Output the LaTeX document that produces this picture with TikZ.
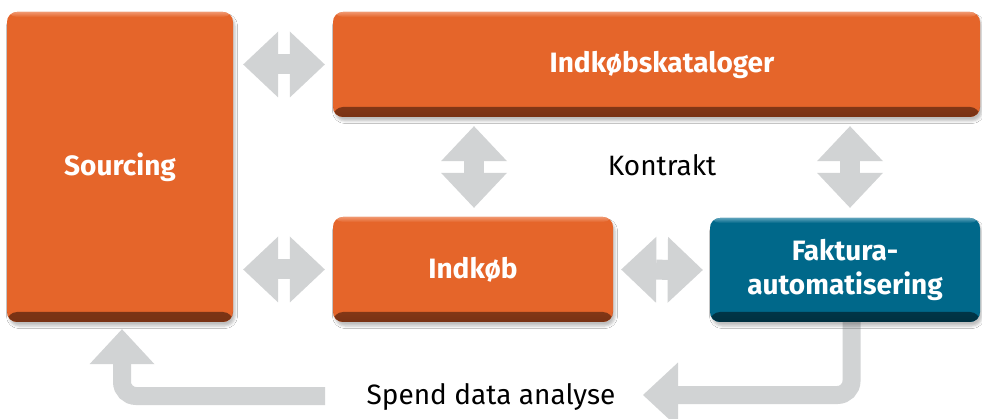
\documentclass[tikz,border=0pt]{standalone}
\usepackage{fontspec}
\setmainfont{Fira Sans}
\usetikzlibrary{arrows.meta,shadows.blur,calc}
\definecolor{orangemain}{RGB}{229,101,42}
\definecolor{orangedark}{RGB}{120,50,20}
\definecolor{orangelight}{RGB}{240,150,110}
\definecolor{bluemain}{RGB}{0,104,138}
\definecolor{bluedark}{RGB}{0,48,64}
\definecolor{bluelight}{RGB}{90,160,185}
\definecolor{arrowgrey}{RGB}{209,211,212}
\pgfdeclarelayer{bg}
\pgfsetlayers{bg,main}
\tikzset{
  box/.style={rounded corners=10pt, inner sep=0pt, text=white,
    font=\fontsize{28}{34}\selectfont\bfseries, align=center,
    blur shadow={shadow xshift=2pt, shadow yshift=-4pt, shadow blur radius=2.5pt, shadow opacity=25}},
  obox/.style={box, fill=orangemain, path picture={
    \shade[top color=orangemain, bottom color=orangedark]
      (path picture bounding box.south west) rectangle ([yshift=10pt]path picture bounding box.south east);
    \shade[top color=orangelight, bottom color=orangemain]
      (path picture bounding box.north west) rectangle ([yshift=-5pt]path picture bounding box.north east);}},
  bbox/.style={box, fill=bluemain, path picture={
    \shade[top color=bluemain, bottom color=bluedark]
      (path picture bounding box.south west) rectangle ([yshift=10pt]path picture bounding box.south east);
    \shade[top color=bluelight, bottom color=bluemain]
      (path picture bounding box.north west) rectangle ([yshift=-5pt]path picture bounding box.north east);}},
  plain/.style={inner sep=0pt, text=black, font=\fontsize{28}{34}\selectfont},
  dbl/.style={draw=arrowgrey, line width=20pt,
    {Triangle[length=35pt,width=66pt,line width=0pt]}-{Triangle[length=35pt,width=66pt,line width=0pt]}},
  bigarrow/.style={draw=arrowgrey, line width=18pt, rounded corners=14pt,
    -{Triangle[length=35pt,width=65pt,line width=0pt]}}
}
\begin{document}
\begin{tikzpicture}[x=1pt,y=-1pt]
\useasboundingbox (0,0) rectangle (982,419);
\node[obox, minimum width=226pt, minimum height=310pt] (src) at (120,167) {Sourcing};
\node[obox, minimum width=647pt, minimum height=105pt] (kat) at (656.5,64.5) {\hspace*{11pt}Indkøbskataloger};
\node[obox, minimum width=280pt, minimum height=105pt] (ind) at (473,269.5) {Indkøb};
\node[bbox, minimum width=270pt, minimum height=104pt] (fak) at (845,270) {Faktura-\\automatisering};
\node[plain] (kon) at (662,165) {Kontrakt};
\node[plain] (spend) at (491,397) {Spend data analyse};
\coordinate (tipR) at (643,395);
\coordinate (tailL) at (325,396);
\begin{pgfonlayer}{bg}
\fill[white] (0,0) rectangle (982,419);
\draw[dbl] ($(src.east |- kat.west)+(10,0)$) -- ($(kat.west)+(-8,0)$);
\draw[dbl] ($(src.east |- ind.west)+(10,0)$) -- ($(ind.west)+(-8,0)$);
\draw[dbl] ($(ind.east)+(8,0)$) -- ($(fak.west)+(-7,0)$);
\draw[dbl] ($(kat.south -| ind.north)+(1,9)$) -- ($(ind.north)+(1,-9)$);
\draw[dbl] ($(kat.south -| fak.north)+(5,9)$) -- ($(fak.north)+(5,-10)$);
\draw[bigarrow] ($(fak.south)+(6.5,0)$) |- (tipR);
\draw[bigarrow] (tailL) -| ($(src.south)+(2,7)$);
\end{pgfonlayer}
\end{tikzpicture}
\end{document}
